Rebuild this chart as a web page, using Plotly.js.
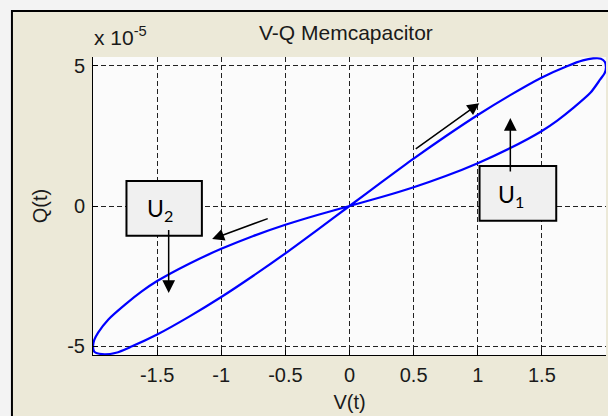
<!DOCTYPE html>
<html>
<head>
<meta charset="utf-8">
<script src="https://cdn.plot.ly/plotly-3.0.1.min.js"></script>
<style>
  html, body { margin: 0; padding: 0; background: #f3f3f3; }
  #chart { width: 608px; height: 416px; }
</style>
</head>
<body>
<div id="chart"></div>
<script>
// Pinched hysteresis loop. Q values in units of 1e-5.
// Right lobe: out along the steep branch, back along the shallow branch;
// left lobe: out along the shallow branch, back along the steep branch.
var voltage = [
  0, 0.25, 0.5, 0.75, 1.0, 1.25, 1.5, 1.7, 1.82, 1.9, 1.96, 1.99, 2.0,
  1.99, 1.955, 1.88, 1.75, 1.62, 1.5, 1.25, 1.0, 0.75, 0.5, 0.25, 0,
  -0.25, -0.5, -0.75, -1.0, -1.25, -1.5, -1.62, -1.75, -1.88, -1.96, -1.99, -2.0,
  -1.99, -1.93, -1.82, -1.7, -1.5, -1.25, -1.0, -0.75, -0.5, -0.25, 0
];
var charge = [
  0, 0.85, 1.69, 2.49, 3.25, 3.95, 4.59, 5.0, 5.2, 5.27, 5.26, 5.15, 4.95,
  4.75, 4.52, 4.05, 3.52, 3.05, 2.68, 2.06, 1.53, 1.07, 0.67, 0.32, 0,
  -0.32, -0.67, -1.07, -1.53, -2.06, -2.68, -3.05, -3.52, -4.05, -4.52, -4.78, -5.02,
  -5.2, -5.29, -5.24, -5.02, -4.59, -3.95, -3.25, -2.49, -1.69, -0.85, 0
];
var xTickVals = [-1.5, -1, -0.5, 0, 0.5, 1, 1.5];
var xTickText = ['-1.5', '-1', '-0.5', '0', '0.5', '1', '1.5'];
var yTickVals = [-5, 0, 5];
var yTickText = ['-5', '0', '5'];
var chartTitle = 'V-Q Memcapacitor';
var xLabel = 'V(t)';
var yLabel = 'Q(t)';
var exponentLabel = 'x 10<sup>-5</sup>';
var boxLabels = ['U<sub>1</sub>', 'U<sub>2</sub>'];

var font = 'Liberation Sans, Arial, sans-serif';

var trace = {
  x: voltage, y: charge, type: 'scatter', mode: 'lines',
  line: { color: '#0000ff', width: 2.2, shape: 'spline', smoothing: 0.7 },
  hoverinfo: 'skip'
};

var gridStyle = {
  showgrid: true, gridcolor: '#222', gridwidth: 1, griddash: '5px,3px',
  zeroline: false, showline: true, linecolor: '#000', linewidth: 1,
  ticks: 'inside', ticklen: 5, tickcolor: '#000',
  tickfont: { family: font, size: 20, color: '#1a1a1a' }
};

var layout = {
  width: 608, height: 416,
  margin: { l: 93, r: 2, t: 57, b: 61, pad: 0 },
  paper_bgcolor: '#f3f3f3',
  plot_bgcolor: 'rgba(0,0,0,0)',
  showlegend: false,
  title: {
    text: chartTitle, font: { family: font, size: 21, color: '#1a1a1a' },
    xref: 'paper', x: 0.493, xanchor: 'center',
    yref: 'container', y: 0.921, yanchor: 'middle'
  },
  xaxis: Object.assign({}, gridStyle, {
    range: [-2, 2], tickmode: 'array', tickvals: xTickVals, ticktext: xTickText,
    ticklabelstandoff: 2,
    title: { text: xLabel, font: { family: font, size: 20, color: '#1a1a1a' }, standoff: 9 }
  }),
  yaxis: Object.assign({}, gridStyle, {
    range: [-5.32, 5.32], tickmode: 'array', tickvals: yTickVals, ticktext: yTickText,
    ticklabelstandoff: 3,
    title: { text: yLabel, font: { family: font, size: 20, color: '#1a1a1a' }, standoff: 14 }
  }),
  shapes: [
    // beige figure panel with black frame
    { type: 'rect', xref: 'paper', yref: 'paper', layer: 'below',
      x0: -0.158, x1: 1.2, y0: -0.4, y1: 1.154,
      fillcolor: '#ece9d8', line: { color: '#000', width: 2 } },
    // white axes area
    { type: 'rect', xref: 'paper', yref: 'paper', layer: 'below',
      x0: 0, x1: 1, y0: 0, y1: 1, fillcolor: '#fbfbfb', line: { width: 0 } },
    // U1 box
    { type: 'rect', xref: 'x', yref: 'y', layer: 'above',
      x0: 1.014, x1: 1.612, y0: -0.525, y1: 1.429,
      fillcolor: '#f0f0f0', line: { color: '#000', width: 2 } },
    // U2 box
    { type: 'rect', xref: 'x', yref: 'y', layer: 'above',
      x0: -1.739, x1: -1.151, y0: -1.061, y1: 0.893,
      fillcolor: '#f0f0f0', line: { color: '#000', width: 2 } }
  ],
  annotations: [
    { text: exponentLabel, xref: 'paper', yref: 'paper', x: -0.002, y: 1.072,
      xanchor: 'left', yanchor: 'middle', showarrow: false,
      font: { family: font, size: 21, color: '#1a1a1a' } },
    { text: boxLabels[0], xref: 'x', yref: 'y', x: 1.26, y: 0.36,
      showarrow: false, font: { family: 'Lato, sans-serif', size: 23, color: '#000' } },
    { text: boxLabels[1], xref: 'x', yref: 'y', x: -1.48, y: -0.14,
      showarrow: false, font: { family: 'Lato, sans-serif', size: 23, color: '#000' } },
    // arrows
    { text: '', x: 1.012, y: 3.67, ax: 0.505, ay: 2.0, axref: 'x', ayref: 'y',
      xref: 'x', yref: 'y', showarrow: true, arrowhead: 2, arrowsize: 1.6,
      arrowwidth: 1.5, arrowcolor: '#000' },
    { text: '', x: 1.254, y: 3.14, ax: 1.254, ay: 1.18, axref: 'x', ayref: 'y',
      xref: 'x', yref: 'y', showarrow: true, arrowhead: 2, arrowsize: 1.7,
      arrowwidth: 1.5, arrowcolor: '#000' },
    { text: '', x: -1.41, y: -3.11, ax: -1.41, ay: -0.8, axref: 'x', ayref: 'y',
      xref: 'x', yref: 'y', showarrow: true, arrowhead: 2, arrowsize: 1.7,
      arrowwidth: 1.5, arrowcolor: '#000' },
    { text: '', x: -1.071, y: -1.18, ax: -0.626, ay: -0.43, axref: 'x', ayref: 'y',
      xref: 'x', yref: 'y', showarrow: true, arrowhead: 2, arrowsize: 1.6,
      arrowwidth: 1.5, arrowcolor: '#000' }
  ]
};

Plotly.newPlot('chart', [trace], layout, { staticPlot: true, displayModeBar: false });
</script>
</body>
</html>
